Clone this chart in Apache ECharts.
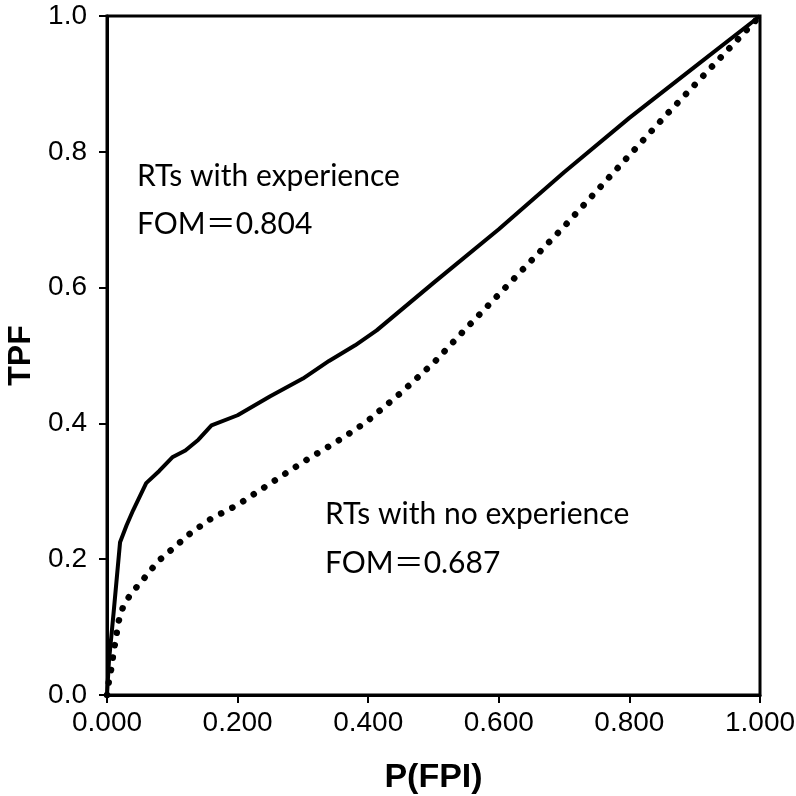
<!DOCTYPE html>
<html>
<head>
<meta charset="utf-8">
<script src="https://cdn.jsdelivr.net/npm/echarts@6/dist/echarts.min.js"></script>
<style>
  html, body { margin: 0; padding: 0; background: #fff; }
  #chart { width: 796px; height: 796px; }
</style>
</head>
<body>
<div id="chart"></div>
<script>
// ROC-like curves: P(FPI) on x, TPF on y
const withExpFpi = [0, 0.003, 0.01, 0.02, 0.03, 0.04, 0.06, 0.08, 0.1, 0.12, 0.14, 0.16, 0.2, 0.25, 0.3, 0.34, 0.38, 0.413, 0.5, 0.6, 0.7, 0.8, 0.9, 1];
const withExpTpf = [0, 0.05, 0.12, 0.225, 0.25, 0.272, 0.312, 0.33, 0.35, 0.36, 0.376, 0.397, 0.412, 0.44, 0.466, 0.492, 0.515, 0.537, 0.607, 0.686, 0.77, 0.85, 0.925, 1];

const noExpFpi = [0, 0.003, 0.007, 0.01, 0.014, 0.017, 0.024, 0.035, 0.049, 0.064, 0.077, 0.1, 0.13, 0.16, 0.2, 0.265, 0.3, 0.36, 0.397, 0.45, 0.5, 0.545, 0.6, 0.7, 0.8, 0.859, 0.923, 1];
const noExpTpf = [0, 0.021, 0.041, 0.063, 0.085, 0.106, 0.128, 0.147, 0.163, 0.18, 0.196, 0.215, 0.24, 0.26, 0.28, 0.321, 0.343, 0.378, 0.402, 0.445, 0.489, 0.535, 0.59, 0.69, 0.795, 0.857, 0.922, 1];

const xTicks = [0, 0.2, 0.4, 0.6, 0.8, 1.0];
const yTicks = [0, 0.2, 0.4, 0.6, 0.8, 1.0];

const labelWith = ['RTs with experience', 'FOM\uFF1D0.804'];
const labelNo = ['RTs with no experience', 'FOM\uFF1D0.687'];

function zip(xs, ys) {
  return xs.map((x, i) => [x, ys[i]]);
}

const chart = echarts.init(document.getElementById('chart'));
const tickFont = { fontFamily: 'Liberation Sans', fontSize: 28, color: '#000' };
const noteFont = 'Lato, "Noto Sans CJK JP"';

chart.setOption({
  animation: false,
  backgroundColor: '#fff',
  grid: {
    left: 107, right: 36, top: 16, bottom: 101,
    outerBoundsMode: 'none',
    show: true, borderColor: '#000', borderWidth: 3
  },
  xAxis: {
    type: 'value',
    min: xTicks[0], max: xTicks[xTicks.length - 1], interval: 0.2,
    name: 'P(FPI)', nameLocation: 'middle', nameGap: 66,
    nameTextStyle: { fontFamily: 'Liberation Sans', fontWeight: 'bold', fontSize: 34, color: '#000' },
    axisLine: { lineStyle: { color: '#000', width: 3 } },
    axisTick: { show: true, inside: false, length: 8, lineStyle: { color: '#000', width: 2 } },
    axisLabel: Object.assign({ margin: 14, formatter: v => v.toFixed(3) }, tickFont),
    splitLine: { show: false }
  },
  yAxis: {
    type: 'value',
    min: yTicks[0], max: yTicks[yTicks.length - 1], interval: 0.2,
    name: 'TPF', nameLocation: 'middle', nameGap: 64,
    nameTextStyle: { fontFamily: 'Liberation Sans', fontWeight: 'bold', fontSize: 32, color: '#000' },
    axisLine: { lineStyle: { color: '#000', width: 3 } },
    axisTick: { show: true, inside: false, length: 8, lineStyle: { color: '#000', width: 2 } },
    axisLabel: Object.assign({ margin: 20, formatter: v => v.toFixed(1) }, tickFont),
    splitLine: { show: false }
  },
  graphic: [
    { type: 'text', left: 137, top: 161, style: { text: labelWith[0], font: '30px ' + noteFont, fill: '#000' } },
    { type: 'text', left: 137, top: 209, style: { text: labelWith[1], font: '30px ' + noteFont, fill: '#000' } },
    { type: 'text', left: 325, top: 499, style: { text: labelNo[0], font: '30px ' + noteFont, fill: '#000' } },
    { type: 'text', left: 325, top: 548, style: { text: labelNo[1], font: '30px ' + noteFont, fill: '#000' } }
  ],
  series: [
    {
      name: 'RTs with experience',
      type: 'line',
      data: zip(withExpFpi, withExpTpf),
      showSymbol: false,
      lineStyle: { color: '#000', width: 4, join: 'round' }
    },
    {
      name: 'RTs with no experience',
      type: 'line',
      data: zip(noExpFpi, noExpTpf),
      showSymbol: false,
      lineStyle: { color: '#000', width: 6.5, type: [0.1, 12.5], cap: 'round' }
    }
  ]
});
</script>
</body>
</html>
